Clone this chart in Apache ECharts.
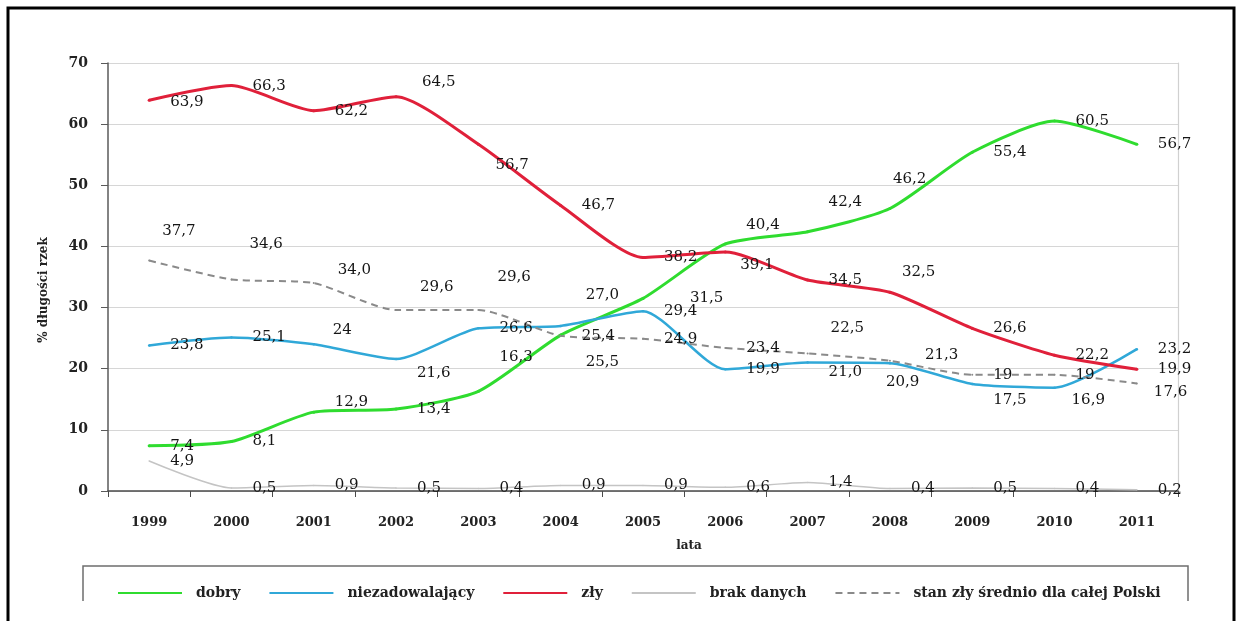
<!DOCTYPE html>
<html>
<head>
<meta charset="utf-8">
<script src="https://cdn.jsdelivr.net/npm/echarts@6/dist/echarts.min.js"></script>
<style>
  html, body { margin: 0; padding: 0; background: #ffffff; }
  #chart { width: 1236px; height: 621px; }
</style>
</head>
<body>
<div id="chart"></div>
<script>
// Stan rzek 1999–2011: udział długości rzek (%) wg klasy stanu
const years = ['1999', '2000', '2001', '2002', '2003', '2004', '2005', '2006', '2007', '2008', '2009', '2010', '2011'];
const yTicks = [0, 10, 20, 30, 40, 50, 60, 70];

// values kept as written, so labels keep their precision (e.g. "34,0" vs "24")
const dobry = ['7.4', '8.1', '12.9', '13.4', '16.3', '25.5', '31.5', '40.4', '42.4', '46.2', '55.4', '60.5', '56.7'];
const niezadowalajacy = ['23.8', '25.1', '24', '21.6', '26.6', '27.0', '29.4', '19.9', '21.0', '20.9', '17.5', '16.9', '23.2'];
const zly = ['63.9', '66.3', '62.2', '64.5', '56.7', '46.7', '38.2', '39.1', '34.5', '32.5', '26.6', '22.2', '19.9'];
const brakDanych = ['4.9', '0.5', '0.9', '0.5', '0.4', '0.9', '0.9', '0.6', '1.4', '0.4', '0.5', '0.4', '0.2'];
const zlySrednio = ['37.7', '34.6', '34.0', '29.6', '29.6', '25.4', '24.9', '23.4', '22.5', '21.3', '19', '19', '17.6'];

// label nudges [dx, dy] per point index, to keep crowded labels readable
const labelShift = {
  dobry: { 2: [0, -10], 4: [0, -34], 5: [4, 27], 6: [26, 0], 7: [0, -19], 8: [0, -30], 9: [-18, -29] },
  niezadowalajacy: { 2: [-2, -14], 3: [0, 14], 5: [4, -31], 8: [0, 10], 9: [-25, 19], 10: [0, 16], 11: [-4, 12] },
  zly: { 0: [0, 2], 3: [5, -15], 4: [-4, 21], 7: [-6, 13], 9: [-9, -20] },
  brakDanych: {},
  zlySrednio: { 0: [-8, -29], 1: [-3, -35], 2: [3, -13], 3: [3, -23], 4: [-2, -33], 8: [2, -25], 9: [14, -6], 12: [-4, 9] }
};

const SERIF = '"DejaVu Serif", "Liberation Serif", serif';
const LABEL_GAP = 21;

// label anchor is given relative to the marker's box (marker size = line width)
function buildData(values, shifts, size) {
  return values.map((v, i) => {
    const s = shifts[i] || [0, 0];
    return {
      value: Number(v),
      label: { position: [size / 2 + LABEL_GAP + s[0], size / 2 + s[1]] }
    };
  });
}

// the point marker is a dot no wider than the line, so it stays hidden in the stroke
function lineSeries(name, values, shifts, color, width, extra) {
  return Object.assign({
    name: name,
    type: 'line',
    data: buildData(values, shifts, width),
    symbol: 'circle',
    symbolSize: width,
    showSymbol: true,
    showAllSymbol: true,
    smooth: 0.22,
    lineStyle: { color: color, width: width },
    itemStyle: { color: color },
    label: {
      show: true,
      align: 'left',
      verticalAlign: 'middle',
      fontFamily: SERIF,
      fontSize: 15,
      color: '#151515',
      formatter: p => values[p.dataIndex].replace('.', ',')
    },
    labelLayout: { hideOverlap: false },
    emphasis: { disabled: true },
    z: 3
  }, extra || {});
}

const chart = echarts.init(document.getElementById('chart'), null, { renderer: 'canvas' });

chart.setOption({
  backgroundColor: '#ffffff',
  animation: false,
  grid: { left: 108, right: 58, top: 63, bottom: 130 },
  xAxis: {
    type: 'category',
    data: years,
    boundaryGap: true,
    name: 'lata',
    nameLocation: 'middle',
    nameGap: 49,
    nameTextStyle: { fontFamily: SERIF, fontSize: 12, fontWeight: 'bold', color: '#222', padding: [0, 0, 0, 92] },
    axisLine: { lineStyle: { color: '#4a4a4a', width: 1.5 } },
    axisTick: { show: true, alignWithLabel: false, length: 6, lineStyle: { color: '#4a4a4a' } },
    axisLabel: { margin: 25, fontFamily: SERIF, fontSize: 13, fontWeight: 'bold', color: '#222' },
    splitLine: { show: false }
  },
  yAxis: [
    {
      type: 'value',
      min: yTicks[0],
      max: yTicks[yTicks.length - 1],
      interval: 10,
      name: '% długości rzek',
      nameLocation: 'middle',
      nameGap: 58,
      nameRotate: 90,
      nameTextStyle: { fontFamily: SERIF, fontSize: 12, fontWeight: 'bold', color: '#222', padding: [0, 26, 0, 0] },
      axisLine: { show: true, lineStyle: { color: '#5a5a5a', width: 1.5 } },
      axisTick: { show: true, inside: false, length: 7, lineStyle: { color: '#5a5a5a' } },
      axisLabel: { margin: 20, fontFamily: SERIF, fontSize: 14, fontWeight: 'bold', color: '#222' },
      splitLine: { show: true, lineStyle: { color: '#d6d6d6', width: 1.2 } }
    },
    {
      type: 'value',
      position: 'right',
      min: yTicks[0],
      max: yTicks[yTicks.length - 1],
      interval: 10,
      axisLine: { show: true, lineStyle: { color: '#d0d0d0', width: 1.2 } },
      axisTick: { show: false },
      axisLabel: { show: false },
      splitLine: { show: false }
    }
  ],
  legend: {
    left: 112,
    top: 581,
    orient: 'horizontal',
    itemWidth: 64,
    itemHeight: 14,
    itemGap: 28,
    itemStyle: { opacity: 0 },
    textStyle: { fontFamily: SERIF, fontSize: 14, fontWeight: 'bold', color: '#222', padding: [0, 0, 0, 9] },
    data: ['dobry', 'niezadowalający', 'zły', 'brak danych', 'stan zły średnio dla całej Polski']
  },
  series: [
    lineSeries('dobry', dobry, labelShift.dobry, '#2fdc2f', 3),
    lineSeries('niezadowalający', niezadowalajacy, labelShift.niezadowalajacy, '#30a8d8', 2.5),
    lineSeries('zły', zly, labelShift.zly, '#e0203a', 3),
    lineSeries('brak danych', brakDanych, labelShift.brakDanych, '#c4c4c4', 1.5),
    lineSeries('stan zły średnio dla całej Polski', zlySrednio, labelShift.zlySrednio, '#8a8a8a', 2,
      { lineStyle: { color: '#8a8a8a', width: 2, type: [7, 5] } })
  ],
  graphic: [
    // legend frame
    { type: 'rect', z: 50, silent: true, shape: { x: 83, y: 566, width: 1105, height: 70 },
      style: { fill: 'none', stroke: '#6e6e6e', lineWidth: 1.5 } },
    // lower strip of the page is blank
    { type: 'rect', z: 100, silent: true, shape: { x: 10, y: 601, width: 1222, height: 30 },
      style: { fill: '#ffffff' } },
    // outer page frame
    { type: 'rect', z: 101, silent: true, shape: { x: 8, y: 8, width: 1226, height: 700 },
      style: { fill: 'none', stroke: '#000000', lineWidth: 3 } }
  ]
});
</script>
</body>
</html>
